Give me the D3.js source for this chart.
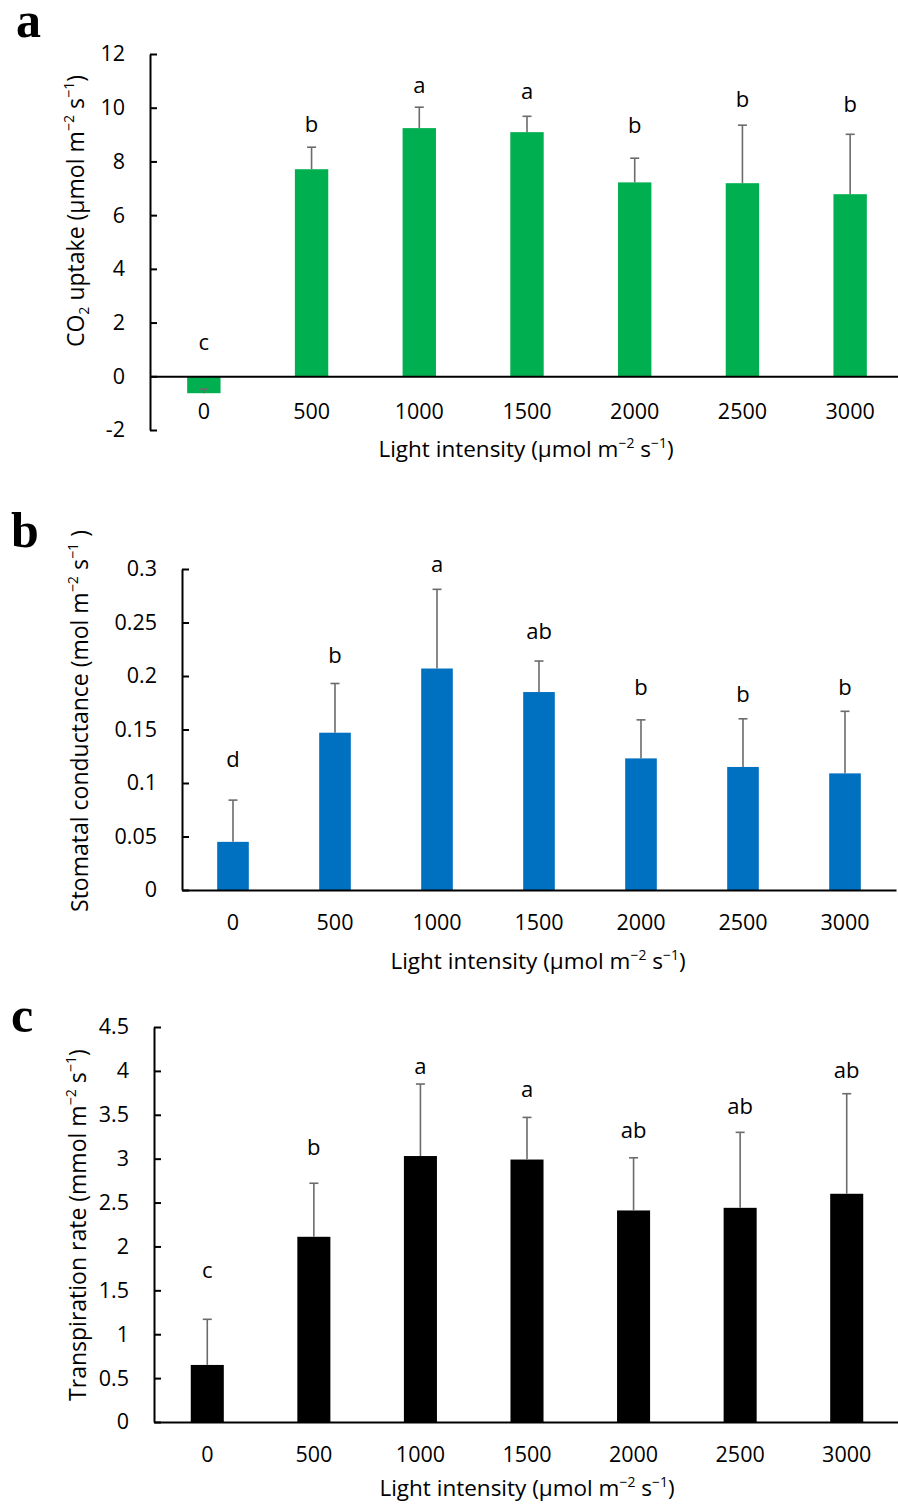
<!DOCTYPE html>
<html>
<head>
<meta charset="utf-8">
<script src="https://cdn.jsdelivr.net/npm/d3@7"></script>
<style>
  body { margin: 0; background: #fff; }
  svg { display: block; }
  text { font-family: "Open Sans", sans-serif; fill: #000; }
</style>
</head>
<body>
<div id="chart"></div>
<script>
// light levels on the x axis (µmol m-2 s-1)
const lightLevels = ["0", "500", "1000", "1500", "2000", "2500", "3000"];

// a: CO2 uptake
const co2Mean    = [-0.63, 7.71, 9.24, 9.09, 7.22, 7.19, 6.78];
const co2Err     = [0.15, 0.82, 0.78, 0.59, 0.90, 2.16, 2.23];
const co2Letters = ["c", "b", "a", "a", "b", "b", "b"];
const co2LetterY = [0.97, 9.09, 10.54, 10.32, 9.05, 10.02, 9.83];
const co2Ticks   = [-2, 0, 2, 4, 6, 8, 10, 12];

// b: stomatal conductance
const gsMean    = [0.045, 0.147, 0.207, 0.185, 0.123, 0.115, 0.109];
const gsErr     = [0.039, 0.046, 0.074, 0.029, 0.036, 0.045, 0.058];
const gsLetters = ["d", "b", "a", "ab", "b", "b", "b"];
const gsLetterY = [0.115, 0.212, 0.297, 0.235, 0.182, 0.176, 0.182];
const gsTicks   = [0, 0.05, 0.1, 0.15, 0.2, 0.25, 0.3];

// c: transpiration rate
const trMean    = [0.65, 2.11, 3.03, 2.99, 2.41, 2.44, 2.60];
const trErr     = [0.52, 0.61, 0.82, 0.48, 0.60, 0.86, 1.14];
const trLetters = ["c", "b", "a", "a", "ab", "ab", "ab"];
const trLetterY = [1.64, 3.04, 3.96, 3.70, 3.23, 3.51, 3.92];
const trTicks   = [0, 0.5, 1, 1.5, 2, 2.5, 3, 3.5, 4, 4.5];

const width = 898;
const height = 1505;

const svg = d3.select("#chart")
    .append("svg")
    .attr("width", width)
    .attr("height", height);

// appends text with sub/superscript pieces: [text, "sup"|"sub"|undefined]
function richText(sel, parts) {
    let back = 0; // baseline offset to undo on the next normal piece (px)
    const fs = parseFloat(sel.style("font-size"));
    parts.forEach(([t, kind]) => {
        if (!kind) {
            sel.append("tspan").attr("dy", back).text(t);
            back = 0;
        } else {
            const shift = (kind === "sup" ? -0.42 : 0.22) * fs;
            sel.append("tspan")
                .attr("dy", shift + back)
                .style("font-size", (fs * 0.62) + "px")
                .text(t);
            back = -shift;
        }
    });
}

const xTitle = [["Light intensity (\u00b5mol m"], ["\u22122", "sup"], [" s"], ["\u22121", "sup"], [")"]];

function drawPanel(cfg) {
    const g = svg.append("g");

    const x = d3.scaleBand()
        .domain(lightLevels)
        .range([cfg.left, cfg.right])
        .paddingInner(0.69)
        .paddingOuter(0.345);

    const y = d3.scaleLinear()
        .domain(cfg.domain)
        .range([cfg.bottom, cfg.top]);

    const rows = lightLevels.map((k, i) => ({
        key: k, mean: cfg.mean[i], err: cfg.err[i],
        letter: cfg.letters[i], ly: cfg.letterY[i]
    }));

    // bars
    g.selectAll("rect.bar")
        .data(rows)
        .enter()
        .append("rect")
        .attr("class", "bar")
        .attr("x", d => x(d.key))
        .attr("width", x.bandwidth())
        .attr("y", d => y(Math.max(0, d.mean)))
        .attr("height", d => Math.abs(y(d.mean) - y(0)))
        .attr("fill", cfg.color);

    // error bars (upper only)
    const eb = g.selectAll("g.err")
        .data(rows)
        .enter()
        .append("g")
        .attr("class", "err")
        .attr("stroke", "#6b6b6b")
        .attr("stroke-width", 1.6);
    eb.append("line")
        .attr("x1", d => x(d.key) + x.bandwidth() / 2)
        .attr("x2", d => x(d.key) + x.bandwidth() / 2)
        .attr("y1", d => y(d.mean))
        .attr("y2", d => y(d.mean + d.err));
    eb.append("line")
        .attr("x1", d => x(d.key) + x.bandwidth() / 2 - 4.5)
        .attr("x2", d => x(d.key) + x.bandwidth() / 2 + 4.5)
        .attr("y1", d => y(d.mean + d.err))
        .attr("y2", d => y(d.mean + d.err));

    // significance letters
    g.selectAll("text.letter")
        .data(rows)
        .enter()
        .append("text")
        .attr("class", "letter")
        .attr("x", d => x(d.key) + x.bandwidth() / 2)
        .attr("y", d => y(d.ly))
        .attr("text-anchor", "middle")
        .style("font-size", "22px")
        .text(d => d.letter);

    // y axis, ticks pointing inward
    const yAxis = g.append("g")
        .attr("transform", `translate(${cfg.left},0)`)
        .call(d3.axisLeft(y)
            .tickValues(cfg.ticks)
            .tickFormat(d => String(d))
            .tickSizeInner(-7)
            .tickSizeOuter(0)
            .tickPadding(25));
    yAxis.select(".domain").attr("stroke", "#000").attr("stroke-width", 2);
    yAxis.selectAll(".tick line").attr("stroke", "#000").attr("stroke-width", 2);
    yAxis.selectAll(".tick text")
        .style("font-size", "21.5px")
        .style("font-family", "'Open Sans', sans-serif")
        .attr("fill", "#000");

    // x axis at zero
    const xAxis = g.append("g")
        .attr("transform", `translate(0,${y(0)})`)
        .call(d3.axisBottom(x)
            .tickSize(0)
            .tickPadding(cfg.xPad));
    xAxis.select(".domain").attr("stroke", "#000").attr("stroke-width", 2);
    xAxis.selectAll(".tick text")
        .style("font-size", "21.5px")
        .style("font-family", "'Open Sans', sans-serif")
        .attr("fill", "#000");

    // x title
    const xt = g.append("text")
        .attr("x", cfg.xTitleX)
        .attr("y", cfg.xTitleY)
        .attr("text-anchor", "middle")
        .style("font-size", "22.5px");
    richText(xt, xTitle);

    // y title
    const yt = g.append("text")
        .attr("transform", `translate(${cfg.yTitleX},${cfg.yTitleY}) rotate(-90)`)
        .attr("text-anchor", "middle")
        .style("font-size", "23px");
    richText(yt, cfg.yTitle);

    // panel letter
    g.append("text")
        .attr("x", cfg.tagX)
        .attr("y", cfg.tagY)
        .style("font-family", "'Liberation Serif', serif")
        .style("font-weight", "bold")
        .style("font-size", "50px")
        .text(cfg.tag);
}

drawPanel({
    tag: "a", tagX: 16, tagY: 37,
    left: 150, right: 904, top: 54, bottom: 430,
    domain: [-2, 12], ticks: co2Ticks,
    mean: co2Mean, err: co2Err, letters: co2Letters, letterY: co2LetterY,
    color: "#00b050", xPad: 27,
    xTitleX: 526, xTitleY: 457,
    yTitleX: 84, yTitleY: 211,
    yTitle: [["CO"], ["2", "sub"], [" uptake  (\u00b5mol m"], ["\u22122", "sup"], [" s"], ["\u22121", "sup"], [")"]]
});

drawPanel({
    tag: "b", tagX: 11, tagY: 547,
    left: 182, right: 896, top: 569, bottom: 890,
    domain: [0, 0.3], ticks: gsTicks,
    mean: gsMean, err: gsErr, letters: gsLetters, letterY: gsLetterY,
    color: "#0070c0", xPad: 25,
    xTitleX: 538, xTitleY: 969,
    yTitleX: 88, yTitleY: 721,
    yTitle: [["Stomatal conductance (mol m"], ["\u22122", "sup"], [" s"], ["\u22121", "sup"], [" )"]]
});

drawPanel({
    tag: "c", tagX: 11, tagY: 1032,
    left: 154, right: 900, top: 1027, bottom: 1422,
    domain: [0, 4.5], ticks: trTicks,
    mean: trMean, err: trErr, letters: trLetters, letterY: trLetterY,
    color: "#000000", xPad: 25,
    xTitleX: 527, xTitleY: 1496,
    yTitleX: 86, yTitleY: 1225,
    yTitle: [["Transpiration rate (mmol m"], ["\u22122", "sup"], [" s"], ["\u22121", "sup"], [")"]]
});
</script>
</body>
</html>
